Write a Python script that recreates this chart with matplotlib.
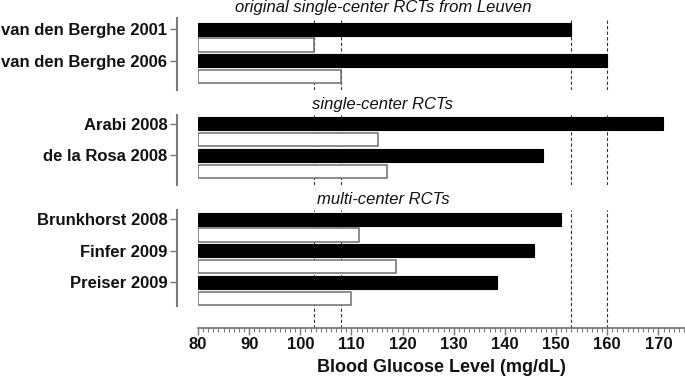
import matplotlib
matplotlib.use("Agg")
import matplotlib.pyplot as plt
from matplotlib.ticker import MultipleLocator

plt.rcParams['font.family'] = ['Liberation Sans', 'DejaVu Sans']

# ---- data ----
group_titles = ["original single-center RCTs from Leuven", "single-center RCTs", "multi-center RCTs"]
group1_studies = ["van den Berghe 2001", "van den Berghe 2006"]
group1_conventional = [153, 160]
group1_intensive = [102.6, 107.9]
group2_studies = ["Arabi 2008", "de la Rosa 2008"]
group2_conventional = [170.8, 147.4]
group2_intensive = [115.1, 116.9]
group3_studies = ["Brunkhorst 2008", "Finfer 2009", "Preiser 2009"]
group3_conventional = [151.0, 145.7, 138.5]
group3_intensive = [111.5, 118.8, 110.0]
reference_lines = [102.6, 107.9, 153, 160]
x_ticks = [80, 90, 100, 110, 120, 130, 140, 150, 160, 170]
x_label = "Blood Glucose Level (mg/dL)"

groups = [
    (group1_studies, group1_conventional, group1_intensive),
    (group2_studies, group2_conventional, group2_intensive),
    (group3_studies, group3_conventional, group3_intensive),
]

W, H = 685, 379
fig = plt.figure(figsize=(W / 100, H / 100), dpi=100)

# layout in pixels (top, bottom, first-bar-center, spine-bottom)
layouts = [
    (18, 90, 29.2, 90),
    (115, 185, 123.7, 185),
    (210, 327.5, 219.2, 306),
]
pitch = 15.82
x_left_px, x_right_px = 198, 684
title_baselines = [12, 109.5, 204]
title_x = 383

spine_col = "#7a7a7a"
for gi, ((studies, conv, inten), (top, bot, c0, sb)) in enumerate(zip(groups, layouts)):
    ax = fig.add_axes([x_left_px / W, (H - bot) / H, (x_right_px - x_left_px) / W, (bot - top) / H])
    n = len(studies)
    yb = [2 * i for i in range(n)]
    yw = [2 * i + 1 for i in range(n)]
    ax.barh(yb, [c - 80 for c in conv], left=80, height=0.84, color="black",
            edgecolor="black", linewidth=0.8, zorder=3)
    ax.barh(yw, [v - 80 for v in inten], left=80, height=0.84, color="white",
            edgecolor="#6e6e6e", linewidth=1.1, zorder=3)
    for xv in reference_lines:
        ax.axvline(xv, color="#333333", lw=0.8, ls=(0, (3, 2)), zorder=2)
    ymin_d = (top - c0) / pitch
    ymax_d = (bot - c0) / pitch
    ax.set_ylim(ymax_d, ymin_d)
    ax.set_xlim(80, 175)
    for s in ["top", "right"]:
        ax.spines[s].set_visible(False)
    ax.spines["left"].set_position(("outward", 15))
    ax.spines["left"].set_bounds(ymin_d, (sb - c0) / pitch)
    ax.spines["left"].set_color(spine_col)
    ax.spines["left"].set_linewidth(1.5)
    ax.set_yticks(yb)
    ax.set_yticklabels(studies, fontsize=12, fontweight="bold", color="#111111")
    ax.tick_params(axis="y", length=5, width=1, color=spine_col, pad=2)
    if gi < 2:
        ax.spines["bottom"].set_visible(False)
        ax.set_xticks([])
    else:
        ax.spines["bottom"].set_color(spine_col)
        ax.spines["bottom"].set_linewidth(1.3)
        ax.set_xticks(x_ticks)
        ax.set_xticklabels([str(t) for t in x_ticks], fontsize=12, fontweight="bold", color="#111111")
        ax.xaxis.set_minor_locator(MultipleLocator(1))
        ax.tick_params(axis="x", which="major", length=5, width=1, color=spine_col, pad=2)
        ax.tick_params(axis="x", which="minor", length=3, width=0.8, color=spine_col)
        ax.set_xlabel(x_label, fontsize=13, fontweight="bold", color="#111111", labelpad=5)
    ax.patch.set_alpha(0)
    fig.text(title_x / W, (H - title_baselines[gi]) / H, group_titles[gi], fontsize=12,
             style="italic", ha="center", va="baseline", color="#111111")

fig.savefig("out.png", dpi=100)
